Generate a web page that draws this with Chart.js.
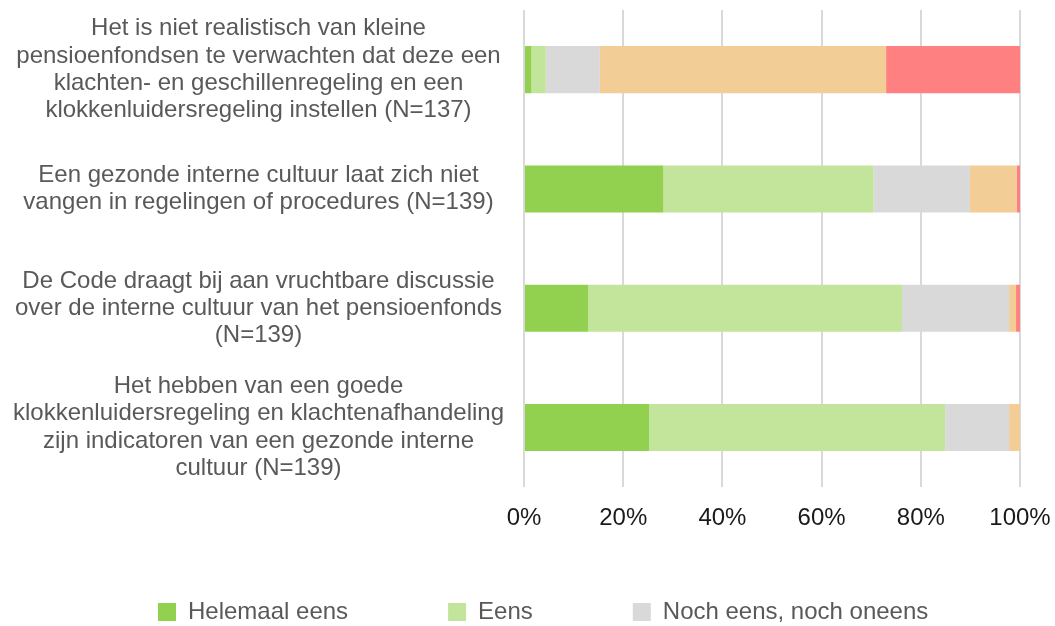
<!DOCTYPE html>
<html>
<head>
<meta charset="utf-8">
<script src="https://cdn.jsdelivr.net/npm/chart.js@4/dist/chart.umd.min.js"></script>
<style>
  html, body { margin: 0; padding: 0; background: #ffffff; }
  #wrap { width: 1055px; height: 626px; }
</style>
</head>
<body>
<div id="wrap"><canvas id="c" width="1055" height="626"></canvas></div>
<script>
const categories = [
  ["Het is niet realistisch van kleine", "pensioenfondsen te verwachten dat deze een", "klachten- en geschillenregeling en een", "klokkenluidersregeling instellen (N=137)"],
  ["Een gezonde interne cultuur laat zich niet", "vangen in regelingen of procedures (N=139)"],
  ["De Code draagt bij aan vruchtbare discussie", "over de interne cultuur van het pensioenfonds", "(N=139)"],
  ["Het hebben van een goede", "klokkenluidersregeling en klachtenafhandeling", "zijn indicatoren van een gezonde interne", "cultuur (N=139)"]
];
const seriesNames = ["Helemaal eens", "Eens", "Noch eens, noch oneens", "Oneens", "Helemaal oneens"];
const helemaalEens   = [1.5, 28.1, 12.9, 25.2];
const eens           = [2.9, 42.4, 63.3, 59.7];
const nochEens       = [10.9, 19.4, 21.6, 12.9];
const oneens         = [57.7, 9.4, 1.4, 2.2];
const helemaalOneens = [27.0, 0.7, 0.8, 0.0];
const tickValues = [0, 20, 40, 60, 80, 100];
const legendShown = 3;

const colors = ["#92D050", "#C3E49B", "#D9D9D9", "#F3CD96", "#FF8080"];
const seriesValues = [helemaalEens, eens, nochEens, oneens, helemaalOneens];
const FONT = "'Liberation Sans', Arial, sans-serif";

const legendPlugin = {
  id: 'customLegend',
  afterDraw(chart) {
    const ctx = chart.ctx;
    ctx.save();
    ctx.font = '24px ' + FONT;
    ctx.textBaseline = 'middle';
    ctx.textAlign = 'left';
    let x = 158;
    const cy = 612;
    chart.data.datasets.slice(0, legendShown).forEach(ds => {
      ctx.fillStyle = ds.backgroundColor;
      ctx.fillRect(x, cy - 9, 18, 18);
      ctx.fillStyle = '#595959';
      ctx.fillText(ds.label, x + 30, cy);
      x += 30 + ctx.measureText(ds.label).width + 100;
    });
    ctx.restore();
  }
};

new Chart(document.getElementById('c'), {
  type: 'bar',
  data: {
    labels: categories,
    datasets: seriesNames.map((name, i) => ({
      label: name,
      data: seriesValues[i],
      backgroundColor: colors[i],
      borderWidth: 0,
      barPercentage: 0.395,
      categoryPercentage: 1.0
    }))
  },
  options: {
    indexAxis: 'y',
    responsive: false,
    animation: false,
    layout: { padding: { left: 0, right: 35, top: 10, bottom: 76 } },
    plugins: {
      legend: { display: false },
      tooltip: { enabled: false }
    },
    scales: {
      x: {
        stacked: true,
        min: 0,
        max: 100,
        afterBuildTicks(axis) { axis.ticks = tickValues.map(v => ({ value: v })); },
        afterFit(axis) {
          axis.paddingLeft = 0;
          axis.paddingRight = 0;
        },
        grid: { color: '#D9D9D9', lineWidth: 2, drawTicks: false },
        border: { display: false },
        ticks: {
          padding: 17,
          color: '#1a1a1a',
          font: { family: FONT, size: 24 },
          callback: v => v + '%'
        }
      },
      y: {
        stacked: true,
        afterFit(axis) {
          axis.width = 524;
          axis.paddingTop = 0;
          axis.paddingBottom = 0;
        },
        grid: { display: false, drawTicks: false },
        border: { display: false },
        ticks: {
          crossAlign: 'center',
          padding: 20,
          color: '#595959',
          font: { family: FONT, size: 24, lineHeight: 1.14 },
          autoSkip: false
        }
      }
    }
  },
  plugins: [legendPlugin]
});
</script>
</body>
</html>
